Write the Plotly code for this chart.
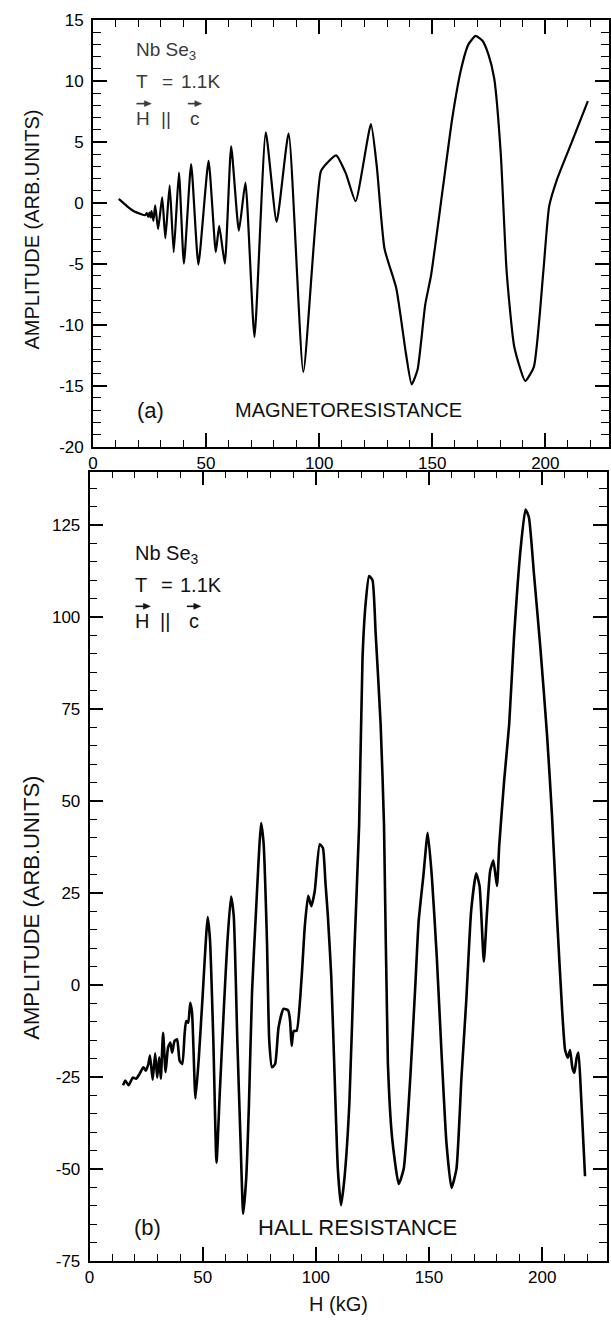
import plotly.graph_objects as go

W, H = 611, 1328

# ---------------- data ----------------
mr_h = [11.4, 15.0, 17.9, 20.8, 23.0, 23.8, 24.4, 25.0, 25.5, 25.9, 26.7, 27.5, 28.8, 30.6, 32.0, 33.9,
        35.7, 38.0, 40.2, 43.4, 46.6, 51.1, 54.3, 55.8, 58.3, 61.1, 64.5, 67.4, 71.4, 76.4, 81.2,
        86.5, 93.0, 100.7, 103.3, 107.5, 111.8, 116.1, 122.9, 125.5, 128.9, 134.1, 138.4, 140.9,
        143.5, 146.9, 149.5, 154.6, 158.9, 162.8, 166.0, 169.2, 172.2, 174.8, 177.4, 180.3, 182.9,
        186.3, 191.1, 194.9, 199.1, 201.7, 205.1, 212.0, 218.8]
mr_amp = [0.32, -0.27, -0.67, -0.89, -1.02, -0.85, -1.15, -0.8, -1.2, -0.67, -1.48, -0.21, -2.15, 0.46,
          -2.91, 1.43, -4.04, 2.48, -4.98, 3.18, -5.06, 3.45, -4.04, -1.88, -4.98, 4.63, -2.29, 1.67,
          -11.0, 5.79, -1.56, 5.71, -13.87, 2.56, 3.23, 3.9, 2.42, 0.13, 6.46, 2.96, -3.77, -7.0,
          -12.4, -14.9, -13.7, -8.35, -5.92, 1.08, 7.0, 11.0, 13.0, 13.7, 13.3, 12.2, 10.2, 4.04,
          -5.66, -11.85, -14.6, -13.47, -5.66, -0.27, 1.89, 5.12, 8.35]

hall_h = [14.8, 15.8, 17.3, 19.1, 20.6, 22.1, 23.8, 24.9, 26.0, 26.7, 27.9, 29.0, 29.9, 30.8, 31.5,
          32.5, 33.6, 34.7, 35.7, 36.5, 37.6, 38.7, 39.8, 41.0, 42.0, 42.7, 43.6, 44.5, 45.3, 46.8,
          48.3, 50.0, 52.2, 53.2, 54.7, 56.1, 57.6, 59.5, 60.9, 62.5, 63.7, 65.3, 66.7, 67.9, 69.2,
          70.4, 71.8, 73.6, 75.8, 76.9, 78.4, 79.4, 80.6, 82.0, 83.5, 85.7, 87.8, 88.6, 89.3, 90.2,
          91.5, 93.7, 95.1, 96.6, 98.0, 99.5, 101.7, 103.1, 104.2, 105.3, 106.8, 108.3, 109.7,
          111.1, 112.6, 114.8, 117.0, 119.1, 120.6, 122.0, 123.5, 125.0, 126.4, 128.6, 130.1,
          131.8, 133.7, 136.6, 138.8, 141.7, 143.9, 145.4, 147.5, 149.4, 151.2, 153.4, 155.5,
          157.7, 159.9, 162.1, 164.3, 166.4, 168.6, 170.8, 172.3, 174.2, 175.5, 177.0, 178.4,
          180.0, 181.0, 183.2, 185.4, 187.5, 190.5, 192.6, 194.1, 196.3, 199.2, 202.1, 204.3,
          206.5, 208.7, 210.1, 211.3, 212.3, 213.3, 214.2, 215.2, 216.0, 217.1, 218.9]
hall_amp = [-27.3, -26.0, -27.3, -25.2, -25.5, -24.2, -22.4, -23.3, -21.5, -19.2, -25.8, -18.6, -25.2,
            -19.7, -25.5, -13.0, -23.7, -17.0, -15.7, -18.4, -15.2, -14.8, -20.6, -21.5, -13.4,
            -9.8, -10.3, -4.9, -7.6, -30.9, -19.7, -2.7, 18.4, 12.5, -15.2, -48.3, -28.6, -4.5,
            11.6, 24.0, 18.8, -15.2, -42.1, -62.2, -52.8, -33.1, -1.8, 20.6, 44.0, 38.5, 11.6,
            -15.2, -22.4, -21.5, -11.6, -6.5, -7.0, -9.8, -16.6, -12.5, -12.5, 2.0, 15.9, 24.2,
            21.4, 25.5, 38.2, 37.2, 28.0, 18.7, 2.2, -25.3, -50.0, -59.9, -52.7, -32.1, 9.1, 43.4,
            88.7, 103.8, 111.1, 110.0, 95.6, 70.9, 43.4, -21.1, -41.7, -54.1, -50.0, -25.3, -0.5,
            17.3, 29.7, 41.3, 29.7, 7.7, -18.4, -43.1, -55.2, -50.0, -25.3, -4.7, 20.1, 30.3, 26.9,
            6.3, 18.7, 31.0, 33.8, 26.9, 37.9, 55.7, 70.9, 94.2, 118.9, 129.2, 127.1, 112.0, 91.4,
            68.1, 46.1, 18.7, -6.0, -17.7, -19.8, -17.7, -22.5, -23.9, -19.8, -18.4, -29.4, -52.0]

top_yticks = [-20, -15, -10, -5, 0, 5, 10, 15]
bot_yticks = [-75, -50, -25, 0, 25, 50, 75, 100, 125]
xticks = [0, 50, 100, 150, 200]

# ---------------- layout helpers ----------------
FONT = "Liberation Sans"
def px(x):
    return x / W
def py(y):
    return 1 - y / H

fig = go.Figure()
fig.add_trace(go.Scatter(x=mr_h, y=mr_amp, mode="lines", xaxis="x", yaxis="y",
                         line=dict(color="black", width=2.2, shape="spline", smoothing=0.5),
                         showlegend=False, hoverinfo="skip"))
fig.add_trace(go.Scatter(x=hall_h, y=hall_amp, mode="lines", xaxis="x2", yaxis="y2",
                         line=dict(color="black", width=2.6, shape="spline", smoothing=0.5),
                         showlegend=False, hoverinfo="skip"))

axis_common = dict(showline=True, linecolor="black", linewidth=1.6, mirror="allticks",
                   ticks="inside", ticklen=14, tickwidth=1.6, tickcolor="black",
                   showgrid=False, zeroline=False,
                   tickfont=dict(family=FONT, size=17, color="black"))

fig.update_layout(
    width=W, height=H, margin=dict(l=0, r=0, t=0, b=0),
    plot_bgcolor="white", paper_bgcolor="white",
    xaxis=dict(axis_common, domain=[px(89), 1.0], range=[0, 228.15], anchor="y",
               tickvals=xticks, ticktext=[str(v) for v in xticks],
               minor=dict(ticks="inside", dtick=10, tick0=0, ticklen=7, tickwidth=1.4, tickcolor="black")),
    yaxis=dict(axis_common, domain=[py(444), py(11.15)], range=[-20, 15], anchor="x",
               tickvals=top_yticks, ticktext=[str(v) for v in top_yticks], ticklabelstandoff=4,
               minor=dict(ticks="inside", dtick=1, tick0=0, ticklen=8, tickwidth=1.4, tickcolor="black")),
    xaxis2=dict(axis_common, domain=[px(85.5), px(608.5)], range=[0, 228.4], anchor="y2",
                tickvals=xticks, ticktext=[str(v) for v in xticks],
                minor=dict(ticks="inside", dtick=10, tick0=0, ticklen=7, tickwidth=1.4, tickcolor="black")),
    yaxis2=dict(axis_common, domain=[py(1270), py(469.3)], range=[-75, 139.5], anchor="x2",
                tickvals=bot_yticks, ticktext=[str(v) for v in bot_yticks], ticklabelstandoff=4,
                minor=dict(ticks="inside", dtick=5, tick0=0, ticklen=8, tickwidth=1.4, tickcolor="black")),
)

ann = []
shapes = []
def text(x, y, s, size, xanchor="left", color="#222", angle=0):
    ann.append(dict(xref="paper", yref="paper", x=px(x), y=py(y), text=s, showarrow=False,
                    xanchor=xanchor, yanchor="middle", textangle=angle,
                    font=dict(family=FONT, size=size, color=color)))
def arrow(x0, x1, y, color):
    shapes.append(dict(type="line", xref="paper", yref="paper",
                       x0=px(x0), x1=px(x1 - 5), y0=py(y), y1=py(y),
                       line=dict(color=color, width=1.6)))
    path = "M {a} {b} L {c} {d} L {c} {e} Z".format(
        a=px(x1), b=py(y), c=px(x1 - 7), d=py(y - 3), e=py(y + 3))
    shapes.append(dict(type="path", xref="paper", yref="paper", path=path,
                       fillcolor=color, line=dict(color=color, width=0.5)))

def sample_block(x, y_top, color, size):
    text(x, y_top, "Nb Se<sub>3</sub>", size, color=color)
    y_t = y_top + 31
    text(x, y_t, "T", size, color=color)
    text(x + 27, y_t, "=", size, color=color)
    text(x + 46, y_t, "1.1K", size, color=color)
    y_h = y_top + 68
    text(x, y_h, "H", size, color=color)
    text(x + 26, y_h, "||", size, color=color)
    text(x + 55, y_h, "c", size, color=color)
    arrow(x + 3, x + 18, y_h - 15, color)
    arrow(x + 55, x + 69, y_h - 15, color)

# panel (a)
ca = "#3a3a3a"
sample_block(130, 43, ca, 19)
text(147, 407, "(a)", 22, xanchor="center", color="#111")
text(347, 407, "MAGNETORESISTANCE", 20, xanchor="center", color="#111")
text(27, 224, "AMPLITUDE (ARB.UNITS)", 20, xanchor="center", color="#111", angle=-90)

# panel (b)
cb = "#111"
sample_block(129, 553, cb, 20)
text(144, 1236, "(b)", 22, xanchor="center", color=cb)
text(357, 1236, "HALL RESISTANCE", 22, xanchor="center", color=cb)
text(27, 912, "AMPLITUDE (ARB.UNITS)", 22, xanchor="center", color=cb, angle=-90)

text(337, 1314, "H (kG)", 20, xanchor="center", color=cb)

fig.update_layout(annotations=ann, shapes=shapes)
fig.write_html("out.html")
